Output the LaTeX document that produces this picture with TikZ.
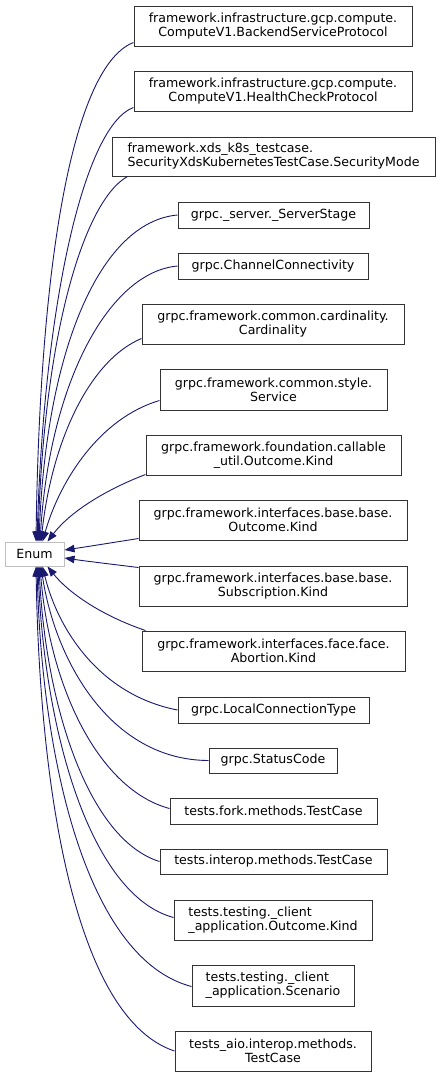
\documentclass[tikz,border=0pt]{standalone}
\usepackage{fontspec}
\setmainfont{DejaVu Sans}
\usetikzlibrary{arrows.meta,calc}
\definecolor{edgeblue}{HTML}{191970}
\definecolor{enumgray}{HTML}{BFBFBF}
\tikzset{
  cls/.style={draw=black!80, line width=1pt, inner sep=0pt, align=center, font=\fontsize{12.6}{14}\selectfont},
  clsl/.style={cls, align=left},
  base/.style={draw=enumgray, line width=1pt, inner sep=0pt, font=\fontsize{12.6}{14}\selectfont},
  inh/.style={draw=edgeblue, line width=0.9pt, -{Triangle[length=10pt,width=7.5pt]}, fill=none},
}
\newcommand{\bx}[7]{% name, style, x1,y1,x2,y2, text
  \node[#2, minimum width={(#5-#3)*1pt}, minimum height={(#6-#4)*1pt}] (#1) at ({(#3+#5)/2},{(#4+#6)/2}) {#7};}
\begin{document}
\begin{tikzpicture}[x=1pt,y=-1pt]
\useasboundingbox (0,0) rectangle (440,1077);
\bx{enum}{base}{5}{542}{64}{566}{Enum}
\bx{b1}{cls}{134}{6}{412}{46}{framework.infrastructure.gcp.compute.\\ComputeV1.BackendServiceProtocol}
\bx{b2}{cls}{134}{71}{412}{111}{framework.infrastructure.gcp.compute.\\ComputeV1.HealthCheckProtocol}
\bx{b3}{clsl}{112}{137}{435}{176}{framework.xds\_k8s\_testcase.\\SecurityXdsKubernetesTestCase.SecurityMode}
\bx{b4}{cls}{178}{202}{369}{228}{grpc.\_server.\_ServerStage}
\bx{b5}{cls}{178}{253}{368}{279}{grpc.ChannelConnectivity}
\bx{b6}{cls}{142}{304}{404}{344}{grpc.framework.common.cardinality.\\Cardinality}
\bx{b7}{cls}{160}{369}{387}{410}{grpc.framework.common.style.\\Service}
\bx{b8}{cls}{146}{435}{401}{475}{grpc.framework.foundation.callable\\\_util.Outcome.Kind}
\bx{b9}{cls}{139}{500}{407}{540}{grpc.framework.interfaces.base.base.\\Outcome.Kind}
\bx{b10}{cls}{139}{566}{407}{606}{grpc.framework.interfaces.base.base.\\Subscription.Kind}
\bx{b11}{cls}{142}{631}{405}{671}{grpc.framework.interfaces.face.face.\\Abortion.Kind}
\bx{b12}{cls}{178}{697}{369}{723}{grpc.LocalConnectionType}
\bx{b13}{cls}{209}{748}{337}{773}{grpc.StatusCode}
\bx{b14}{cls}{170}{798}{377}{824}{tests.fork.methods.TestCase}
\bx{b15}{cls}{160}{849}{387}{874}{tests.interop.methods.TestCase}
\bx{b16}{clsl}{174}{900}{372}{940}{tests.testing.\_client\\\_application.Outcome.Kind}
\bx{b17}{clsl}{192}{965}{354}{1006}{tests.testing.\_client\\\_application.Scenario}
\bx{b18}{cls}{175}{1031}{371}{1071}{tests\_aio.interop.methods.\\TestCase}
% connectors
\draw[inh] ([yshift=4pt]b1.south west) .. controls (75,65) and (40,250) .. ([xshift=1.5pt]enum.north);
\draw[inh] ([yshift=4pt]b2.south west) .. controls (85,125) and (44,300) .. ([xshift=2.5pt]enum.north);
\draw[inh] ([xshift=16pt]b3.south west) .. controls (85,200) and (44,330) .. ([xshift=3.5pt]enum.north);
\draw[inh] (b4.west) .. controls (100,222) and (46,350) .. ([xshift=4.5pt]enum.north);
\draw[inh] (b5.west) .. controls (110,272) and (50,380) .. ([xshift=5.5pt]enum.north);
\draw[inh] ([yshift=6pt]b6.south west) .. controls (90,360) and (52,440) .. ([xshift=6.5pt]enum.north);
\draw[inh] ([yshift=10pt]b7.south west) .. controls (100,418) and (60,480) .. ([xshift=8pt]enum.north);
\draw[inh] ([yshift=1pt]b8.south west) .. controls (105,490) and (70,512) .. ([xshift=13pt]enum.north);
\draw[inh] ([yshift=2pt]b9.south west) .. controls (110,543) and (85,547) .. ([yshift=4pt]enum.east);
\draw[inh] ([yshift=-2pt]b10.north west) .. controls (110,564) and (85,561) .. ([yshift=-4pt]enum.east);
\draw[inh] ([xshift=4pt]b11.north west) .. controls (100,615) and (68,592) .. ([xshift=13pt]enum.south);
\draw[inh] (b12.west) .. controls (100,695) and (58,630) .. ([xshift=8pt]enum.south);
\draw[inh] (b13.west) .. controls (110,760) and (55,660) .. ([xshift=6.5pt]enum.south);
\draw[inh] ([yshift=-11pt]b14.north west) .. controls (100,790) and (50,690) .. ([xshift=5.5pt]enum.south);
\draw[inh] (b15.west) .. controls (90,840) and (46,710) .. ([xshift=4.5pt]enum.south);
\draw[inh] ([yshift=-18pt]b16.north west) .. controls (90,895) and (44,730) .. ([xshift=3.5pt]enum.south);
\draw[inh] ([yshift=-22pt]b17.north west) .. controls (90,960) and (42,770) .. ([xshift=2.5pt]enum.south);
\draw[inh] (b18.west) .. controls (80,1020) and (40,810) .. ([xshift=1.5pt]enum.south);
\end{tikzpicture}
\end{document}
